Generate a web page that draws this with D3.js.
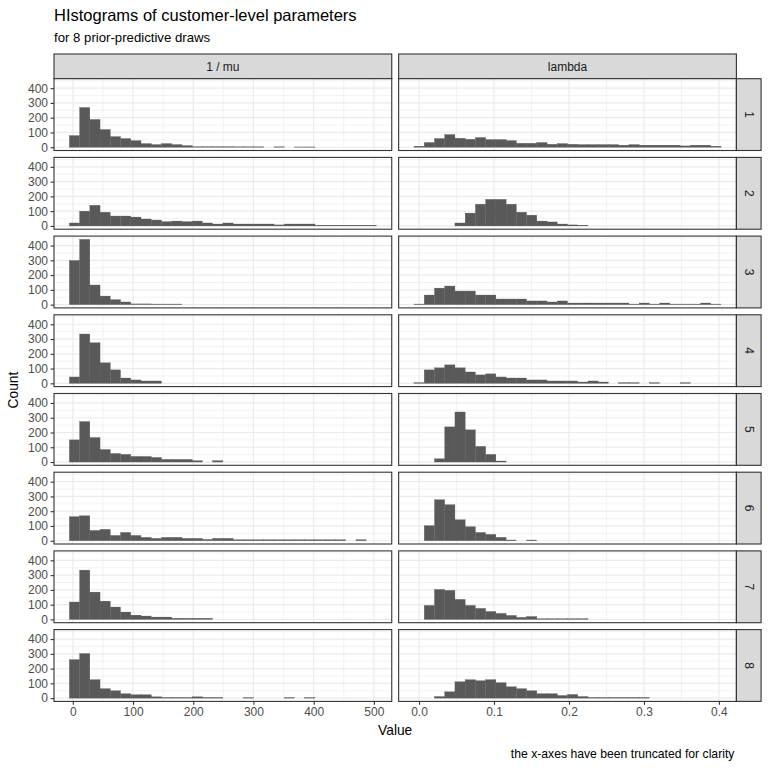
<!DOCTYPE html>
<html>
<head>
<meta charset="utf-8">
<script src="https://cdn.jsdelivr.net/npm/d3@7"></script>
<style>
  body { margin: 0; background: #fff; }
  text { font-family: "Liberation Sans", Arial, sans-serif; }
</style>
</head>
<body>
<script>
// facet labels
const columnLabels = ["1 / mu", "lambda"];
const drawLabels = ["1", "2", "3", "4", "5", "6", "7", "8"];

// histogram bins (30 per column, shared by all draws)
const muBinStart = -5.8;
const muBinWidth = 17.0;
const lambdaBinStart = -0.0067;
const lambdaBinWidth = 0.01365;

// counts per bin, one list per draw
const muCounts = [
  [79, 269, 188, 120, 72, 59, 45, 25, 18, 25, 18, 11, 4, 4, 4, 4, 3, 3, 3, 0, 3, 0, 2, 2, 0, 0, 0, 0, 0, 0],
  [20, 100, 140, 93, 67, 67, 60, 47, 40, 29, 33, 29, 33, 20, 13, 20, 13, 13, 13, 13, 7, 13, 13, 13, 5, 5, 5, 5, 5, 5],
  [299, 442, 133, 58, 34, 18, 5, 5, 4, 4, 4, 0, 0, 0, 0, 0, 0, 0, 0, 0, 0, 0, 0, 0, 0, 0, 0, 0, 0, 0],
  [43, 334, 275, 139, 91, 36, 23, 16, 16, 0, 0, 0, 0, 0, 0, 0, 0, 0, 0, 0, 0, 0, 0, 0, 0, 0, 0, 0, 0, 0],
  [150, 274, 166, 85, 58, 52, 38, 38, 31, 18, 18, 18, 9, 0, 9, 0, 0, 0, 0, 0, 0, 0, 0, 0, 0, 0, 0, 0, 0, 0],
  [163, 169, 70, 77, 36, 56, 36, 23, 16, 23, 23, 16, 16, 9, 16, 16, 7, 7, 7, 7, 7, 7, 7, 7, 7, 7, 7, 0, 7, 0],
  [118, 334, 185, 124, 84, 50, 29, 23, 16, 16, 8, 8, 8, 8, 0, 0, 0, 0, 0, 0, 0, 0, 0, 0, 0, 0, 0, 0, 0, 0],
  [261, 302, 125, 64, 50, 30, 23, 23, 9, 5, 5, 5, 9, 5, 5, 0, 0, 4, 0, 0, 0, 4, 0, 4, 0, 0, 0, 0, 0, 0]
];
const lambdaCounts = [
  [7, 32, 59, 86, 61, 54, 66, 52, 52, 45, 27, 27, 32, 20, 25, 20, 18, 18, 18, 18, 14, 18, 14, 14, 14, 14, 9, 14, 14, 7],
  [0, 0, 0, 0, 20, 87, 147, 180, 180, 147, 93, 73, 33, 27, 13, 7, 5, 0, 0, 0, 0, 0, 0, 0, 0, 0, 0, 0, 0, 0],
  [4, 65, 112, 126, 92, 92, 65, 65, 38, 38, 38, 25, 25, 18, 25, 11, 11, 11, 11, 11, 11, 4, 11, 4, 11, 4, 4, 4, 11, 4],
  [5, 91, 105, 125, 105, 77, 57, 64, 43, 36, 36, 23, 23, 16, 16, 16, 9, 16, 9, 0, 5, 5, 0, 5, 0, 0, 5, 0, 0, 0],
  [0, 0, 22, 238, 339, 218, 106, 52, 7, 0, 0, 0, 0, 0, 0, 0, 0, 0, 0, 0, 0, 0, 0, 0, 0, 0, 0, 0, 0, 0],
  [0, 102, 278, 244, 142, 95, 56, 43, 23, 5, 0, 5, 0, 0, 0, 0, 0, 0, 0, 0, 0, 0, 0, 0, 0, 0, 0, 0, 0, 0],
  [0, 95, 203, 197, 136, 95, 75, 54, 41, 27, 14, 20, 5, 5, 5, 5, 5, 0, 0, 0, 0, 0, 0, 0, 0, 0, 0, 0, 0, 0],
  [0, 0, 11, 43, 111, 125, 118, 125, 105, 77, 64, 50, 30, 30, 18, 25, 11, 5, 5, 5, 5, 5, 5, 0, 0, 0, 0, 0, 0, 0]
];

// axis breaks
const muTicks = [0, 100, 200, 300, 400, 500];
const muMinor = [50, 150, 250, 350, 450];
const lambdaTicks = [0, 0.1, 0.2, 0.3, 0.4];
const lambdaMinor = [0.05, 0.15, 0.25, 0.35];
const countTicks = [0, 100, 200, 300, 400];
const countMinor = [50, 150, 250, 350, 450];

const width = 768, height = 768;
const panelLeft = 54;
const panelW = 337.75;
const panelH = 71.8;
const spacing = 6.9;
const stripSize = 24.7;
const stripTop = 54;
const rowTop0 = stripTop + stripSize;
const smallText = 12;

const svg = d3.select("body").append("svg")
  .attr("width", width)
  .attr("height", height);

const maxCount = d3.max(muCounts.concat(lambdaCounts).flat());
const y = d3.scaleLinear()
  .domain([-0.05 * maxCount, 1.05 * maxCount])
  .range([panelH, 0]);

function binScale(start, w) {
  return d3.scaleLinear()
    .domain([start - 1.5 * w, start + 31.5 * w])
    .range([0, panelW]);
}

const columns = [
  { label: columnLabels[0], counts: muCounts, start: muBinStart, w: muBinWidth,
    x: binScale(muBinStart, muBinWidth), ticks: muTicks, minor: muMinor, fmt: d3.format("d") },
  { label: columnLabels[1], counts: lambdaCounts, start: lambdaBinStart, w: lambdaBinWidth,
    x: binScale(lambdaBinStart, lambdaBinWidth), ticks: lambdaTicks, minor: lambdaMinor, fmt: d3.format(".1f") }
];

const rowTop = (r) => rowTop0 + r * (panelH + spacing);
const colLeft = (c) => panelLeft + c * (panelW + spacing);
const rightEdge = colLeft(1) + panelW;

// title, subtitle
svg.append("text")
  .attr("x", panelLeft).attr("y", 20.5)
  .attr("font-size", 16.5).attr("fill", "#000")
  .text("HIstograms of customer-level parameters");
svg.append("text")
  .attr("x", panelLeft).attr("y", 41.7)
  .attr("font-size", 13.2).attr("fill", "#000")
  .text("for 8 prior-predictive draws");

// column strips
columns.forEach((col, c) => {
  const g = svg.append("g").attr("transform", `translate(${colLeft(c)},${stripTop})`);
  g.append("rect")
    .attr("width", panelW).attr("height", stripSize)
    .attr("fill", "#D9D9D9").attr("stroke", "#333").attr("stroke-width", 1.1);
  g.append("text")
    .attr("x", panelW / 2).attr("y", stripSize / 2)
    .attr("dy", "0.35em").attr("text-anchor", "middle")
    .attr("font-size", smallText).attr("fill", "#1A1A1A")
    .text(col.label);
});

drawLabels.forEach((lab, r) => {
  columns.forEach((col, c) => {
    const g = svg.append("g").attr("transform", `translate(${colLeft(c)},${rowTop(r)})`);
    g.append("rect").attr("width", panelW).attr("height", panelH).attr("fill", "#fff");

    // minor grid
    g.selectAll(".mx").data(col.minor).enter().append("line")
      .attr("x1", (d) => col.x(d)).attr("x2", (d) => col.x(d))
      .attr("y1", 0).attr("y2", panelH)
      .attr("stroke", "#EBEBEB").attr("stroke-width", 0.6);
    g.selectAll(".my").data(countMinor).enter().append("line")
      .attr("x1", 0).attr("x2", panelW)
      .attr("y1", (d) => y(d)).attr("y2", (d) => y(d))
      .attr("stroke", "#EBEBEB").attr("stroke-width", 0.6);
    // major grid
    g.selectAll(".gx").data(col.ticks).enter().append("line")
      .attr("x1", (d) => col.x(d)).attr("x2", (d) => col.x(d))
      .attr("y1", 0).attr("y2", panelH)
      .attr("stroke", "#EBEBEB").attr("stroke-width", 1.2);
    g.selectAll(".gy").data(countTicks).enter().append("line")
      .attr("x1", 0).attr("x2", panelW)
      .attr("y1", (d) => y(d)).attr("y2", (d) => y(d))
      .attr("stroke", "#EBEBEB").attr("stroke-width", 1.2);

    // bars
    const bins = col.counts[r]
      .map((n, i) => ({ n: n, x0: col.start + i * col.w, x1: col.start + (i + 1) * col.w }))
      .filter((d) => d.n > 0);
    g.selectAll(".bar").data(bins).enter().append("rect")
      .attr("class", "bar")
      .attr("x", (d) => col.x(d.x0))
      .attr("width", (d) => col.x(d.x1) - col.x(d.x0))
      .attr("y", (d) => y(d.n))
      .attr("height", (d) => y(0) - y(d.n))
      .attr("fill", "#595959")
      .attr("stroke", "#595959")
      .attr("stroke-width", 0.3);

    g.append("rect").attr("width", panelW).attr("height", panelH)
      .attr("fill", "none").attr("stroke", "#333").attr("stroke-width", 1.1);

    if (c === 0) {
      const ax = g.append("g").call(
        d3.axisLeft(y).tickValues(countTicks).tickSize(3.4).tickPadding(2.6)
      );
      styleAxis(ax);
    }
    if (r === drawLabels.length - 1) {
      const ax = g.append("g").attr("transform", `translate(0,${panelH})`).call(
        d3.axisBottom(col.x).tickValues(col.ticks).tickFormat(col.fmt).tickSize(3.4).tickPadding(3)
      );
      styleAxis(ax);
    }
  });

  // row strip
  const s = svg.append("g").attr("transform", `translate(${rightEdge},${rowTop(r)})`);
  s.append("rect")
    .attr("width", stripSize).attr("height", panelH)
    .attr("fill", "#D9D9D9").attr("stroke", "#333").attr("stroke-width", 1.1);
  s.append("text")
    .attr("transform", `translate(${stripSize / 2},${panelH / 2}) rotate(90)`)
    .attr("dy", "0.35em").attr("text-anchor", "middle")
    .attr("font-size", smallText).attr("fill", "#1A1A1A")
    .text(lab);
});

function styleAxis(ax) {
  ax.select(".domain").remove();
  ax.selectAll("line").attr("stroke", "#333").attr("stroke-width", 1.1);
  ax.selectAll("text")
    .attr("fill", "#4D4D4D")
    .attr("font-size", smallText)
    .attr("font-family", "'Liberation Sans', Arial, sans-serif");
}

const panelsBottom = rowTop(drawLabels.length - 1) + panelH;

// axis titles
svg.append("text")
  .attr("x", panelLeft + (rightEdge - panelLeft) / 2).attr("y", 735)
  .attr("text-anchor", "middle").attr("font-size", 13.75).attr("fill", "#000")
  .text("Value");
svg.append("text")
  .attr("transform", `translate(18,${(rowTop0 + panelsBottom) / 2}) rotate(-90)`)
  .attr("text-anchor", "middle").attr("font-size", 13.75).attr("fill", "#000")
  .text("Count");

// caption
svg.append("text")
  .attr("x", rightEdge - 2).attr("y", 757.5)
  .attr("text-anchor", "end").attr("font-size", 12.2).attr("fill", "#000")
  .text("the x-axes have been truncated for clarity");
</script>
</body>
</html>
